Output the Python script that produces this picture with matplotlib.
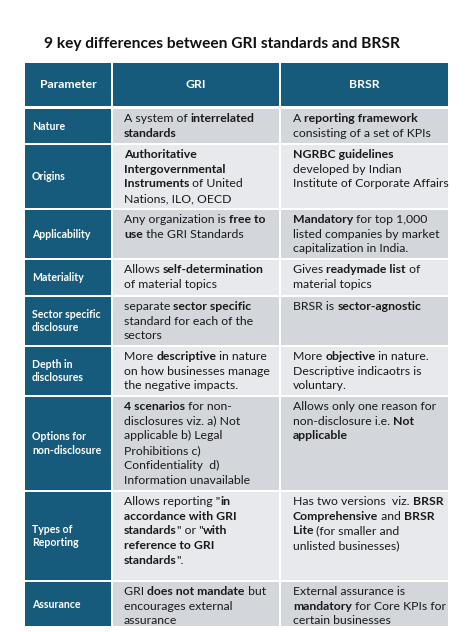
import matplotlib
matplotlib.use("Agg")
import matplotlib.pyplot as plt
from matplotlib.patches import Rectangle

title = "9 key differences between GRI standards and BRSR"
headers = ["Parameter", "GRI", "BRSR"]
params = [["Nature"], ["Origins"], ["Applicability"], ["Materiality"],
          ["Sector specific", "disclosure"], ["Depth in", "disclosures"],
          ["Options for", "non-disclosure"], ["Types of", "Reporting"], ["Assurance"]]
gri = [
    ["A system of **interrelated", "**standards"],
    ["**Authoritative", "**Intergovernmental", "**Instruments** of United", "Nations, ILO, OECD"],
    ["Any organization is **free to", "**use** the GRI Standards"],
    ["Allows **self-determination", "of material topics"],
    ["separate **sector specific", "standard for each of the", "sectors"],
    ["More **descriptive** in nature", "on how businesses manage", "the negative impacts."],
    ["**4 scenarios** for non-", "disclosures viz. a) Not", "applicable b) Legal", "Prohibitions c)", "Confidentiality  d)", "Information unavailable"],
    ["Allows reporting \"**in", "**accordance with GRI", "**standards**\" or \"**with", "**reference to GRI", "**standards**\"."],
    ["GRI **does not mandate** but", "encourages external", "assurance"],
]
brsr = [
    ["A **reporting framework", "consisting of a set of KPIs"],
    ["**NGRBC guidelines", "developed by Indian", "Institute of Corporate Affairs"],
    ["**Mandatory** for top 1,000", "listed companies by market", "capitalization in India."],
    ["Gives **readymade list** of", "material topics"],
    ["BRSR is **sector-agnostic"],
    ["More **objective** in nature.", "Descriptive indicaotrs is", "voluntary."],
    ["Allows only one reason for", "non-disclosure i.e. **Not", "**applicable"],
    ["Has two versions  viz. **BRSR", "**Comprehensive** and **BRSR", "**Lite** (for smaller and", "unlisted businesses)"],
    ["External assurance is", "**mandatory** for Core KPIs for", "certain businesses"],
]
row_tops = [109, 145, 210, 260, 297, 347, 397, 492, 582]
row_bots = [143, 208, 258, 295, 345, 395, 490, 580, 626]

W, H = 474, 632
plt.rcParams['font.family'] = ['Lato', 'DejaVu Sans']
fig = plt.figure(figsize=(W/100, H/100), dpi=100)
ax = fig.add_axes([0, 0, 1, 1])
ax.set_xlim(0, W); ax.set_ylim(H, 0); ax.axis("off")
fig.canvas.draw()
rend = fig.canvas.get_renderer()

TEAL = "#175b7c"
cols = [(25, 111), (113, 279), (281, 448)]
FS = 8.8

ax.text(44, 44, title, fontsize=11.2, fontweight="bold", va="center", color="#111111")

for (x0, x1), h in zip(cols, headers):
    ax.add_patch(Rectangle((x0, 63), x1 - x0, 43, color=TEAL, lw=0))
    ax.text((x0 + x1) / 2, 85, h, color="white", fontsize=8.8, fontweight="bold",
            ha="center", va="center")

def draw_rich(x, y, line):
    parts = line.split("**")
    bold = False
    cx = x
    for i, p in enumerate(parts):
        if i > 0:
            bold = not bold
        if p:
            t = ax.text(cx, y, p, fontsize=FS, fontweight="bold" if bold else "normal",
                        color="#1a1a1a", va="baseline")
            cx += t.get_window_extent(renderer=rend).width

LS = 14.7
for i in range(len(params)):
    t0, t1 = row_tops[i], row_bots[i]
    shade = "#d3d6db" if i % 2 == 0 else "#e7e9ec"
    ax.add_patch(Rectangle((cols[0][0], t0), cols[0][1] - cols[0][0], t1 - t0, color=TEAL, lw=0))
    for (x0, x1) in cols[1:]:
        ax.add_patch(Rectangle((x0, t0), x1 - x0, t1 - t0, color=shade, lw=0))
    n = len(params[i])
    mid = (t0 + t1) / 2
    for k, p in enumerate(params[i]):
        ax.text(32, mid + (k - (n - 1) / 2) * 13, p, color="white", fontsize=7.6,
                fontweight="bold", va="center")
    for lines, x in ((gri[i], 124), (brsr[i], 293)):
        for k, ln in enumerate(lines):
            draw_rich(x, t0 + 13 + k * LS, ln)

fig.savefig("out.png", dpi=100, facecolor="white")
